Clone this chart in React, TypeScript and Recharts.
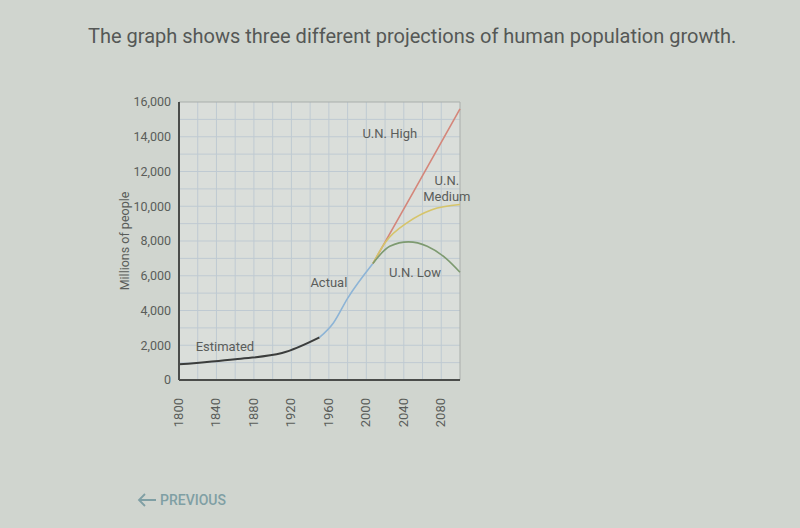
import { LineChart, Line, XAxis, YAxis, ReferenceLine, ReferenceArea, ReferenceDot } from "recharts";

// Series (millions of people)
const estimatedYears = [1800, 1860, 1910, 1950];
const estimatedValues = [900, 1200, 1550, 2450];

const actualYears = [1950, 1965, 1980, 2007];
const actualValues = [2450, 3300, 4700, 6700];

const highYears = [2007, 2050, 2100];
const highValues = [6700, 10800, 15600];

const mediumYears = [2007, 2020, 2045, 2070, 2100];
const mediumValues = [6700, 7900, 9100, 9800, 10100];

const lowYears = [2007, 2025, 2045, 2065, 2085, 2100];
const lowValues = [6700, 7700, 7950, 7700, 7000, 6200];

const xTicks = [1800, 1840, 1880, 1920, 1960, 2000, 2040, 2080];
const yTicks = [0, 2000, 4000, 6000, 8000, 10000, 12000, 14000, 16000];
const xGrid = [1820, 1840, 1860, 1880, 1900, 1920, 1940, 1960, 1980, 2000, 2020, 2040, 2060, 2080];
const yGrid = [1000, 2000, 3000, 4000, 5000, 6000, 7000, 8000, 9000, 10000, 11000, 12000, 13000, 14000, 15000];

const pairs = (xs: number[], ys: number[]) => xs.map((year, i) => ({ year, value: ys[i] }));

const INK = "#5a5d5a";
const FONT = "Roboto, 'Noto Sans', sans-serif";

const XTick = ({ x, y, payload }: any) => (
  <text
    x={x}
    y={y}
    transform={`rotate(-90 ${x} ${y})`}
    dx={-10}
    dy={4}
    textAnchor="end"
    fontSize={13}
    fill={INK}
    fontFamily={FONT}
  >
    {payload.value}
  </text>
);

const tag = (lines: string[]) => ({ viewBox }: any) => {
  const cx = viewBox.x + (viewBox.width || 0) / 2;
  const cy = viewBox.y + (viewBox.height || 0) / 2;
  return (
    <text x={cx} y={cy} textAnchor="middle" fontSize={13} fill={INK} fontFamily={FONT}>
      {lines.map((l, i) => (
        <tspan key={l} x={cx} dy={i === 0 ? 4 - (lines.length - 1) * 8 : 16}>
          {l}
        </tspan>
      ))}
    </text>
  );
};

export default function App() {
  return (
    <div
      style={{
        position: "fixed",
        left: 0,
        top: 0,
        width: 800,
        height: 528,
        background: "#d0d5cf",
        fontFamily: FONT,
        overflow: "hidden",
      }}
    >
      <div style={{ position: "absolute", left: 88, top: 24, fontSize: 20, color: "#555856" }}>
        The graph shows three different projections of human population growth.
      </div>
      <LineChart width={800} height={528} margin={{ top: 102, right: 340, bottom: 108, left: 129 }}>
        <ReferenceArea x1={1800} x2={2100} y1={0} y2={16000} fill="#dadeda" fillOpacity={1} stroke="none" />
        {xGrid.map((g) => (
          <ReferenceLine key={`x${g}`} x={g} stroke="#bfcad2" strokeWidth={1} />
        ))}
        {yGrid.map((g) => (
          <ReferenceLine key={`y${g}`} y={g} stroke="#bfcad2" strokeWidth={1} />
        ))}
        <ReferenceLine y={16000} stroke="#a9aeab" strokeWidth={1} />
        <ReferenceLine x={2100} stroke="#a9aeab" strokeWidth={1} />
        <XAxis
          type="number"
          dataKey="year"
          domain={[1800, 2100]}
          ticks={xTicks}
          interval={0}
          height={40}
          tick={<XTick />}
          tickLine={false}
          axisLine={{ stroke: "#4a4c4a", strokeWidth: 2 }}
          allowDuplicatedCategory={false}
        />
        <YAxis
          type="number"
          domain={[0, 16000]}
          ticks={yTicks}
          interval={0}
          width={50}
          tickFormatter={(v: number) => v.toLocaleString("en-US")}
          tick={{ fontSize: 12.5, fill: INK, fontFamily: FONT }}
          tickLine={false}
          tickMargin={2}
          axisLine={{ stroke: "#4a4c4a", strokeWidth: 2 }}
          label={{
            value: "Millions of people",
            angle: -90,
            position: "insideLeft",
            offset: -4,
            style: { fontSize: 12.5, fill: INK, fontFamily: FONT, textAnchor: "middle" },
          }}
        />
        <Line data={pairs(estimatedYears, estimatedValues)} dataKey="value" type="monotone" stroke="#3b3d3c" strokeWidth={2} dot={false} isAnimationActive={false} />
        <Line data={pairs(actualYears, actualValues)} dataKey="value" type="monotone" stroke="#8db4d6" strokeWidth={1.6} dot={false} isAnimationActive={false} />
        <Line data={pairs(highYears, highValues)} dataKey="value" type="linear" stroke="#d4867a" strokeWidth={1.6} dot={false} isAnimationActive={false} />
        <Line data={pairs(mediumYears, mediumValues)} dataKey="value" type="monotone" stroke="#d6c46a" strokeWidth={1.6} dot={false} isAnimationActive={false} />
        <Line data={pairs(lowYears, lowValues)} dataKey="value" type="monotone" stroke="#7d9a70" strokeWidth={1.6} dot={false} isAnimationActive={false} />
        <ReferenceDot x={2025} y={14160} r={0} label={{ content: tag(["U.N. High"]) }} />
        <ReferenceDot x={2086} y={11000} r={0} label={{ content: tag(["U.N.", "Medium"]) }} />
        <ReferenceDot x={2052} y={6160} r={0} label={{ content: tag(["U.N. Low"]) }} />
        <ReferenceDot x={1960} y={5580} r={0} label={{ content: tag(["Actual"]) }} />
        <ReferenceDot x={1849} y={1900} r={0} label={{ content: tag(["Estimated"]) }} />
      </LineChart>
      <div
        style={{
          position: "absolute",
          left: 137,
          top: 492,
          fontSize: 14,
          fontWeight: 500,
          color: "#7f9fa4",
          display: "flex",
          alignItems: "center",
          gap: 3,
        }}
      >
        <svg width={20} height={14} viewBox="0 0 20 14">
          <path d="M19 7 H2 M8 1 L2 7 L8 13" fill="none" stroke="#7f9fa4" strokeWidth={1.8} />
        </svg>
        PREVIOUS
      </div>
    </div>
  );
}
